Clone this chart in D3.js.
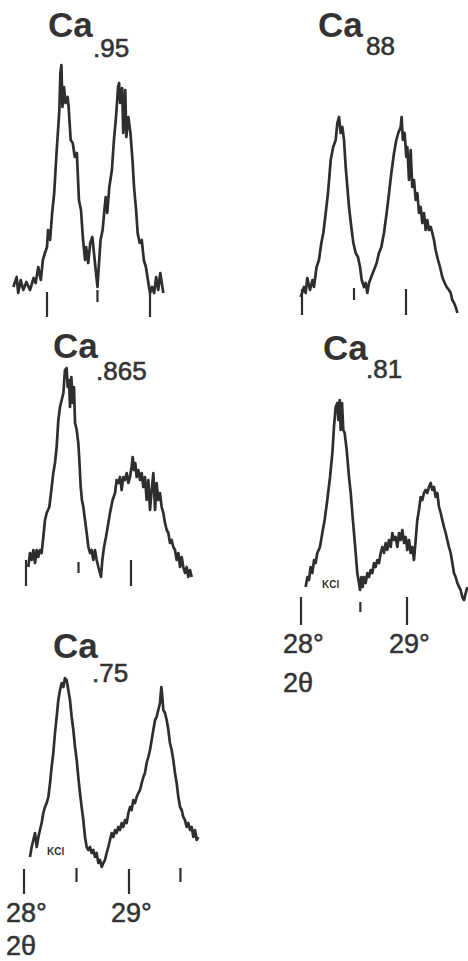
<!DOCTYPE html>
<html>
<head>
    <meta charset="utf-8">
    <title>Ca x-ray peaks</title>
    <style>
        body { margin: 0; background: #fff; }
        text { font-family: "Liberation Sans", Arial, sans-serif; fill: #333; }
    </style>
</head>

<body>
    <svg width="468" height="961"></svg>

    <script src="https://cdn.jsdelivr.net/npm/d3@7"></script>
    <script>

    // traces: [2theta (deg), intensity (a.u.)]
    var ca95 = [[27.673,13],[27.706,23],[27.72,7],[27.745,20],[27.77,10],[27.80,18],[27.835,10],[27.87,22],
        [27.89,17],[27.915,33],[27.94,20],[27.96,40],[27.98,47],[28.00,53],[28.01,70],[28.03,60],[28.05,87],
        [28.07,107],[28.09,143],[28.12,190],[28.13,227],[28.14,235],[28.15,193],[28.165,213],[28.18,197],
        [28.20,203],[28.21,193],[28.23,160],[28.25,157],[28.27,143],[28.29,147],[28.31,100],[28.33,90],
        [28.35,60],[28.37,40],[28.38,53],[28.40,37],[28.42,57],[28.44,63],[28.46,43],[28.48,23],[28.49,13],
        [28.505,37],[28.52,60],[28.54,70],[28.56,93],[28.57,103],[28.585,87],[28.605,113],[28.63,130],
        [28.65,160],[28.67,183],[28.69,213],[28.70,217],[28.71,197],[28.73,212],[28.74,167],[28.76,210],
        [28.77,163],[28.79,183],[28.81,167],[28.83,140],[28.845,113],[28.865,90],[28.88,67],[28.90,57],
        [28.92,60],[28.94,40],[28.96,33],[28.98,20],[29.00,7],[29.02,13],[29.04,7],[29.06,23],[29.08,10],
        [29.10,27],[29.12,13],[29.13,7]]

    var ca88 = [[27.988,23],[28.019,33],[28.035,27],[28.051,42],[28.077,30],[28.10,40],[28.115,33],[28.14,53],
        [28.163,60],[28.186,77],[28.205,87],[28.228,107],[28.25,127],[28.276,160],[28.30,173],[28.324,180],
        [28.34,197],[28.356,203],[28.372,187],[28.388,193],[28.404,180],[28.42,153],[28.436,133],[28.452,113],
        [28.474,93],[28.494,77],[28.516,67],[28.538,63],[28.558,53],[28.574,40],[28.596,33],[28.612,37],
        [28.628,27],[28.644,37],[28.666,43],[28.692,50],[28.718,57],[28.74,67],[28.763,73],[28.788,87],
        [28.814,107],[28.837,127],[28.859,147],[28.885,167],[28.907,180],[28.926,187],[28.949,193],[28.958,203],
        [28.97,180],[28.987,187],[29.003,163],[29.013,173],[29.029,140],[29.045,170],[29.06,133],[29.077,140],
        [29.093,120],[29.109,127],[29.125,107],[29.141,113],[29.157,97],[29.173,107],[29.189,90],[29.205,100],
        [29.221,90],[29.238,93],[29.253,87],[29.269,80],[29.285,70],[29.308,60],[29.327,53],[29.349,43],
        [29.372,37],[29.391,33],[29.413,30],[29.43,27],[29.445,20],[29.462,17],[29.478,13],[29.494,7]]

    var ca865 = [[28.022,23],[28.038,37],[28.054,30],[28.07,40],[28.086,27],[28.102,40],[28.117,33],[28.133,40],
        [28.149,37],[28.165,53],[28.181,70],[28.197,77],[28.222,83],[28.245,103],[28.26,117],[28.276,127],
        [28.292,143],[28.308,170],[28.324,183],[28.34,190],[28.356,197],[28.371,220],[28.387,222],[28.397,203],
        [28.41,210],[28.419,183],[28.432,213],[28.445,187],[28.457,203],[28.467,167],[28.483,160],[28.498,147],
        [28.508,130],[28.521,103],[28.533,90],[28.546,83],[28.562,70],[28.578,57],[28.594,43],[28.61,37],
        [28.625,40],[28.641,30],[28.657,40],[28.673,30],[28.689,23],[28.705,17],[28.714,13],[28.727,30],
        [28.743,43],[28.762,53],[28.784,67],[28.80,77],[28.825,90],[28.848,97],[28.863,110],[28.879,107],
        [28.895,113],[28.911,100],[28.927,113],[28.943,110],[28.959,117],[28.975,107],[28.99,113],[29.006,123],
        [29.016,133],[29.029,120],[29.041,127],[29.054,113],[29.07,120],[29.086,110],[29.102,117],[29.117,103],
        [29.133,113],[29.149,90],[29.165,110],[29.181,80],[29.197,100],[29.213,117],[29.229,80],[29.244,107],
        [29.26,90],[29.276,97],[29.292,83],[29.308,77],[29.324,67],[29.34,60],[29.356,57],[29.371,47],
        [29.387,50],[29.403,43],[29.419,40],[29.435,30],[29.451,37],[29.467,23],[29.483,33],[29.498,23],
        [29.514,17],[29.53,23],[29.546,13],[29.562,20],[29.578,13]]

    var ca81 = [[28.044,43],[28.06,53],[28.075,50],[28.091,63],[28.107,57],[28.123,70],[28.138,67],[28.154,77],
        [28.179,83],[28.201,97],[28.223,110],[28.248,130],[28.274,153],[28.296,177],[28.311,203],[28.327,223],
        [28.343,227],[28.352,210],[28.365,230],[28.374,200],[28.387,227],[28.399,200],[28.412,197],[28.431,180],
        [28.453,153],[28.469,137],[28.484,117],[28.50,97],[28.516,77],[28.531,57],[28.547,47],[28.557,40],
        [28.569,53],[28.582,43],[28.594,53],[28.61,47],[28.626,57],[28.642,53],[28.657,60],[28.673,57],
        [28.689,67],[28.704,63],[28.72,70],[28.736,67],[28.752,77],[28.767,83],[28.783,77],[28.799,87],
        [28.814,80],[28.83,90],[28.846,83],[28.862,97],[28.877,90],[28.893,93],[28.909,83],[28.925,97],
        [28.94,90],[28.956,100],[28.972,87],[28.988,93],[29.003,80],[29.019,90],[29.035,77],[29.05,83],
        [29.066,70],[29.082,90],[29.097,110],[29.113,120],[29.129,133],[29.145,130],[29.16,137],[29.176,140],
        [29.192,137],[29.208,143],[29.223,147],[29.239,140],[29.255,143],[29.27,133],[29.286,137],[29.302,123],
        [29.318,117],[29.333,110],[29.349,103],[29.365,97],[29.38,90],[29.396,83],[29.412,77],[29.428,67],
        [29.443,57],[29.459,53],[29.475,47],[29.491,43],[29.506,40],[29.522,33],[29.538,30],[29.554,37],
        [29.569,43]]

    var ca75 = [[28.057,43],[28.073,53],[28.089,60],[28.105,67],[28.121,53],[28.137,63],[28.152,70],[28.168,77],
        [28.184,87],[28.20,93],[28.216,97],[28.232,103],[28.248,117],[28.263,133],[28.279,147],[28.295,167],
        [28.311,183],[28.327,200],[28.343,210],[28.359,217],[28.375,213],[28.39,222],[28.406,220],[28.422,210],
        [28.438,200],[28.454,183],[28.47,170],[28.486,153],[28.502,140],[28.517,123],[28.533,107],[28.549,93],
        [28.565,80],[28.581,63],[28.597,53],[28.613,50],[28.629,53],[28.644,47],[28.66,50],[28.676,43],
        [28.692,47],[28.708,37],[28.724,40],[28.74,33],[28.756,37],[28.771,40],[28.787,47],[28.803,53],
        [28.819,60],[28.835,67],[28.851,63],[28.867,70],[28.883,67],[28.898,73],[28.914,70],[28.93,77],
        [28.946,73],[28.962,80],[28.978,77],[28.994,87],[29.01,93],[29.025,90],[29.041,100],[29.057,97],
        [29.073,103],[29.089,107],[29.105,110],[29.121,117],[29.137,123],[29.152,127],[29.168,137],[29.184,143],
        [29.20,150],[29.216,160],[29.232,170],[29.248,180],[29.263,183],[29.279,190],[29.295,197],[29.308,213],
        [29.317,203],[29.327,190],[29.343,187],[29.359,180],[29.375,170],[29.39,157],[29.406,150],[29.422,140],
        [29.438,127],[29.454,117],[29.47,103],[29.486,93],[29.502,90],[29.517,83],[29.533,80],[29.549,73],
        [29.565,77],[29.581,70],[29.597,73],[29.613,63],[29.629,70],[29.644,60],[29.66,63]]

    // marker positions on the 2theta axis (whole degrees get the long ones)
    var ca95Ticks = [28, 28.49, 29]
    var ca88Ticks = [28, 28.5, 29]
    var ca865Ticks = [28, 28.5, 29]
    var ca81Ticks = [28, 28.56, 29]
    var ca75Ticks = [28, 28.5, 29, 29.49]

    var axisLabels = ['28°', '29°']

    // layout of each panel
    var panels = [
        { name: 'Ca', sub: '.95', data: ca95, ticks: ca95Ticks, x28: 47, x29: 150, base: 300,
          longT: [292, 317], shortT: [290, 302], tx: 48, ty: 37, sx: 93, sy: 57 },
        { name: 'Ca', sub: '88', data: ca88, ticks: ca88Ticks, x28: 302, x29: 406, base: 320,
          longT: [289, 315], shortT: [288, 300], tx: 318, ty: 37, sx: 366, sy: 55 },
        { name: 'Ca', sub: '.865', data: ca865, ticks: ca865Ticks, x28: 26, x29: 131, base: 590,
          longT: [560, 586], shortT: [562, 573], tx: 53, ty: 358, sx: 96, sy: 380 },
        { name: 'Ca', sub: '.81', data: ca81, ticks: ca81Ticks, x28: 301, x29: 407, base: 630,
          longT: [597, 625], shortT: [602, 612], tx: 323, ty: 360, sx: 366, sy: 378,
          kcl: [322, 588], labelY: 653, thetaY: 692 },
        { name: 'Ca', sub: '.75', data: ca75, ticks: ca75Ticks, x28: 24, x29: 129, base: 900,
          longT: [869, 894], shortT: [868, 882], tx: 53, ty: 658, sx: 92, sy: 682,
          kcl: [47, 855], labelY: 922, thetaY: 955 }
    ]

    var svg = d3.select('svg')
    var ink = '#2e2e2e'

    panels.forEach(function(p){
        var x = d3.scaleLinear().domain([28, 29]).range([p.x28, p.x29])
        var y = d3.scaleLinear().domain([0, 100]).range([p.base, p.base - 100])
        var g = svg.append('g')

        var line = d3.line()
            .x(function(d){ return x(d[0]) })
            .y(function(d){ return y(d[1]) })

        g.append('path')
            .datum(p.data)
            .attr('d', line)
            .attr('fill', 'none')
            .attr('stroke', ink)
            .attr('stroke-width', 2.7)
            .attr('stroke-linejoin', 'round')

        // little marker strokes under the trace
        g.selectAll('line.tick')
            .data(p.ticks)
            .enter().append('line')
            .attr('class', 'tick')
            .attr('x1', function(d){ return x(d) })
            .attr('x2', function(d){ return x(d) })
            .attr('y1', function(d){ return d % 1 === 0 ? p.longT[0] : p.shortT[0] })
            .attr('y2', function(d){ return d % 1 === 0 ? p.longT[1] : p.shortT[1] })
            .attr('stroke', ink)
            .attr('stroke-width', 2.2)

        // title with subscript
        g.append('text')
            .attr('x', p.tx).attr('y', p.ty)
            .attr('font-size', 35).attr('font-weight', 'bold')
            .text(p.name)
        g.append('text')
            .attr('x', p.sx).attr('y', p.sy)
            .attr('font-size', 26)
            .attr('stroke', '#333').attr('stroke-width', 0.6)
            .text(p.sub)

        if (p.kcl) {
            g.append('text')
                .attr('x', p.kcl[0]).attr('y', p.kcl[1])
                .attr('font-size', 10).attr('font-weight', 'bold')
                .text('KCl')
        }

        if (p.labelY) {
            g.selectAll('text.lab')
                .data(axisLabels)
                .enter().append('text')
                .attr('class', 'lab')
                .attr('x', function(d, i){ return x(28 + i) - 18 })
                .attr('y', p.labelY)
                .attr('font-size', 27)
                .attr('stroke', '#333').attr('stroke-width', 0.5)
                .text(function(d){ return d })
            g.append('text')
                .attr('x', x(28) - 18).attr('y', p.thetaY)
                .attr('font-size', 27)
                .attr('stroke', '#333').attr('stroke-width', 0.5)
                .text('2θ')
        }
    })

    </script>
</body>
</html>
